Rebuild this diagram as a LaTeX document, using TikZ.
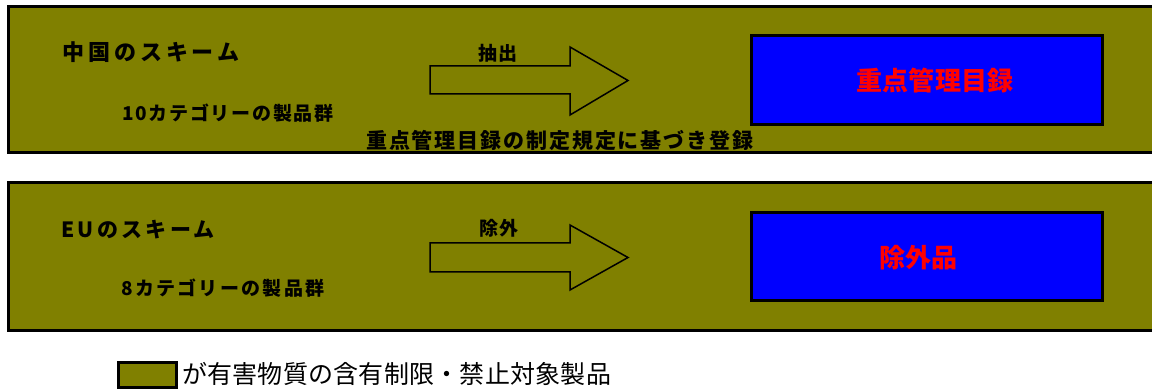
\documentclass[tikz,border=0pt]{standalone}
\usepackage{fontspec}
\newfontfamily\jp{Noto Sans CJK JP}
\newcommand{\jsz}[2]{\fontsize{#1}{#1}\selectfont\addfontfeature{LetterSpace=#2}}
\definecolor{olivebg}{HTML}{808000}
\definecolor{pureblue}{HTML}{0000FF}
\definecolor{purered}{HTML}{FF0000}
\tikzset{
  panel/.style={draw=black, line width=3pt, fill=olivebg},
  target/.style={draw=black, line width=3pt, fill=pureblue},
  blockarrow/.style={draw=black, line width=1.5pt, line join=miter},
  lbl/.style={inner sep=0pt, text=black},
  redlbl/.style={inner sep=0pt, text=purered},
}
\begin{document}
\begin{tikzpicture}[x=1pt,y=-1pt]
\useasboundingbox (0,0) rectangle (1152,390);
\clip (0,0) rectangle (1152,390);
% panels
\draw[panel] (8,7) rectangle (1170,153);
\draw[panel] (8,183) rectangle (1170,330);
% target boxes
\node[target, minimum width=351pt, minimum height=89pt, inner sep=0pt] (tb1) at (926.5,80.5) {};
\node[target, minimum width=351pt, minimum height=88pt, inner sep=0pt] (tb2) at (926.5,257) {};
\node[redlbl, font=\jp\bfseries\jsz{26pt}{1}] (tt1) at (935,81) {重点管理目録};
\node[redlbl, font=\jp\bfseries\jsz{26pt}{0}] (tt2) at (918,258) {除外品};
% block arrows
\draw[blockarrow] (430,66) -- (570,66) -- (570,47) -- (628,80.5) -- (570,115) -- (570,94) -- (430,94) -- cycle;
\draw[blockarrow] (430,243) -- (570,243) -- (570,225) -- (628,257.5) -- (570,290) -- (570,272) -- (430,272) -- cycle;
\coordinate (a1) at (628,80.5);
\coordinate (a2) at (628,257.5);
% labels
\node[lbl, anchor=west, font=\jp\bfseries\jsz{22pt}{18}] (cn) at (62,52) {中国のスキーム};
\node[lbl, anchor=west, font=\jp\bfseries\jsz{19pt}{9}] (cn10) at (122,113) {10カテゴリーの製品群};
\node[lbl, anchor=west, font=\jp\bfseries\jsz{21pt}{9}] (reg) at (366,140) {重点管理目録の制定規定に基づき登録};
\node[lbl, font=\jp\bfseries\jsz{19pt}{2}] (ex1) at (498,53) {抽出};
\node[lbl, anchor=west, font=\jp\bfseries\jsz{21pt}{16}] (eu) at (61,230) {EUのスキーム};
\node[lbl, anchor=west, font=\jp\bfseries\jsz{19pt}{12}] (eu8) at (121,288) {8カテゴリーの製品群};
\node[lbl, font=\jp\bfseries\jsz{19pt}{2}] (ex2) at (499,228) {除外};
% legend
\node[draw=black, line width=3pt, fill=olivebg, minimum width=58pt, minimum height=25pt, inner sep=0pt] (sw) at (147,374.5) {};
\node[lbl, anchor=west, font=\jp\jsz{25pt}{1}] (leg) at (182,374) {が有害物質の含有制限・禁止対象製品};
\end{tikzpicture}
\end{document}
